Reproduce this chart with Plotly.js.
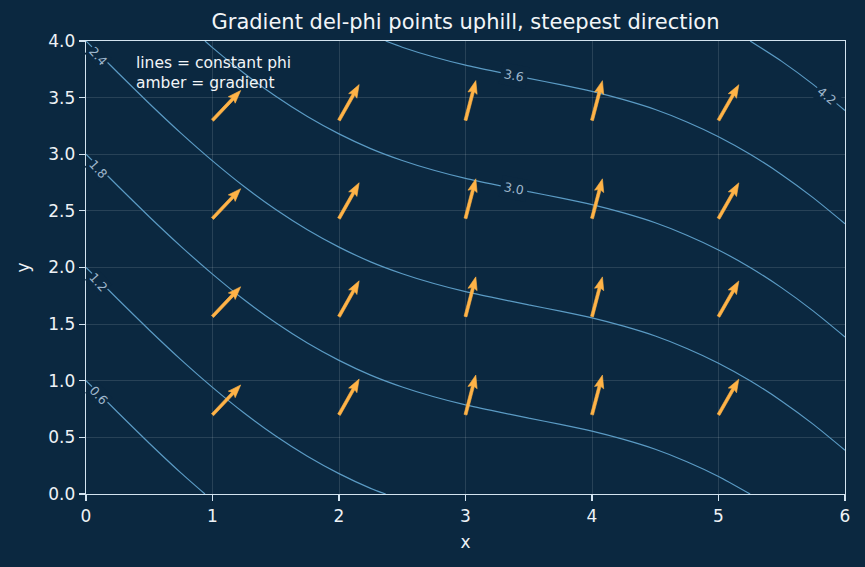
<!DOCTYPE html>
<html><head><meta charset="utf-8">
<script src="https://cdn.plot.ly/plotly-3.0.1.min.js"></script>
<style>html,body{margin:0;padding:0;background:#0b2840;}</style>
</head><body><div id="chart" style="width:865px;height:567px;"></div>
<script>
// scalar field phi sampled along x at y = 0 and y = 4 (phi varies linearly in y)
const phiX = [0,0.25,0.5,0.75,1,1.25,1.5,1.75,2,2.25,2.5,2.75,3,3.25,3.5,3.75,4,4.25,4.5,4.75,5,5.25,5.5,5.75,6];
const phiY = [0, 4];
const phiAtY0 = [0,0.167,0.331,0.488,0.635,0.771,0.893,1.000,1.092,1.170,1.233,1.285,1.328,1.364,1.398,1.431,1.467,1.511,1.563,1.629,1.707,1.800,1.908,2.031,2.168];
const phiAtY4 = [2.400,2.567,2.731,2.888,3.035,3.171,3.293,3.400,3.492,3.570,3.633,3.685,3.728,3.764,3.798,3.831,3.867,3.911,3.963,4.029,4.107,4.200,4.308,4.431,4.568];
const levelStart = 0.6, levelEnd = 4.2, levelStep = 0.6;
const levelLabels = ['0.6','1.2','1.8','2.4','3.0','3.6','4.2'];

// gradient samples (tails of the arrows)
const arrowX = [1, 2, 3, 4, 5];
const arrowY = [0.7, 1.567, 2.433, 3.3];
const gradX = [0.568, 0.339, 0.156, 0.158, 0.343];
const gradY = [0.6, 0.6, 0.6, 0.6, 0.6];

const W = 865, H = 567;
const M = {l: 86, r: 20, t: 41, b: 73};
const xRange = [0, 6], yRange = [0, 4];
const sx = (W - M.l - M.r) / (xRange[1] - xRange[0]);
const sy = (H - M.t - M.b) / (yRange[1] - yRange[0]);

const BG = '#0b2840';
const AMBER = '#ffb347';
const LINE = '#5b9bc4';
const AXC = '#d3e3ef';

// arrow polygons (quiver style, normalised length in screen pixels)
const Lpx = 41, wpx = 3.0, headLen = 13, headAxis = 11.5, headW = 9.5;
const ax = [], ay = [];
for (let j = 0; j < arrowY.length; j++) {
  for (let i = 0; i < arrowX.length; i++) {
    const u = gradX[i], v = gradY[i];
    const n = Math.hypot(u, v);
    const dx = u / n, dy = v / n;          // screen direction (up positive)
    const nx = -dy, ny = dx;
    const pts = [
      [0, -wpx/2], [Lpx - headAxis, -wpx/2], [Lpx - headLen, -headW/2], [Lpx, 0],
      [Lpx - headLen, headW/2], [Lpx - headAxis, wpx/2], [0, wpx/2], [0, -wpx/2]
    ];
    pts.forEach(p => {
      const px = p[0]*dx + p[1]*nx, py = p[0]*dy + p[1]*ny;
      ax.push(arrowX[i] + px / sx);
      ay.push(arrowY[j] + py / sy);
    });
    ax.push(null); ay.push(null);
  }
}

const traces = [
  {
    type: 'contour', x: phiX, y: phiY, z: [phiAtY0, phiAtY4],
    contours: {coloring: 'none', start: levelStart, end: levelEnd, size: levelStep, showlabels: false},
    line: {color: LINE, width: 1.2, smoothing: 0.6},
    showscale: false, hoverinfo: 'skip'
  },
  {
    type: 'scatter', mode: 'lines', x: ax, y: ay, fill: 'toself',
    fillcolor: AMBER, line: {color: AMBER, width: 0.6}, hoverinfo: 'skip', showlegend: false
  }
];

// contour label placement (text positions)
const labelPos = [
  {x: 0.097, y: 0.870, a: 48, p: 0.5}, {x: 0.097, y: 1.870, a: 48, p: 0.5}, {x: 0.097, y: 2.870, a: 48, p: 0.5},
  {x: 0.097, y: 3.870, a: 48, p: 0.5}, {x: 3.383, y: 2.697, a: 11, p: 3}, {x: 3.383, y: 3.697, a: 11, p: 3},
  {x: 5.855, y: 3.52, a: 39, p: 2}
];
const annotations = labelPos.map((p, k) => ({
  x: p.x, y: p.y, xref: 'x', yref: 'y', text: levelLabels[k], showarrow: false,
  textangle: p.a, bgcolor: BG, borderpad: p.p,
  font: {family: 'DejaVu Sans', size: 12.5, color: '#9fb7cc'}
}));
annotations.push({
  xref: 'paper', yref: 'paper', x: (134 - M.l) / (W - M.l - M.r), y: (494 - 52) / (H - M.t - M.b),
  xanchor: 'left', yanchor: 'top', align: 'left', showarrow: false,
  text: 'lines = constant phi<br>amber = gradient',
  font: {family: 'DejaVu Sans', size: 15.5, color: '#f2f5f8'}
});

const axisCommon = {
  showline: true, mirror: true, linecolor: AXC, linewidth: 1.3,
  ticks: 'outside', ticklen: 6, tickwidth: 1.2, tickcolor: AXC,
  gridcolor: 'rgba(255,255,255,0.15)', gridwidth: 0.8, zeroline: false,
  tickfont: {family: 'DejaVu Sans', size: 17, color: '#eef2f6'}
};

const layout = {
  width: W, height: H, margin: M,
  paper_bgcolor: BG, plot_bgcolor: BG,
  showlegend: false,
  title: {text: 'Gradient del-phi points uphill, steepest direction', xref: 'paper', x: 0.5, xanchor: 'center',
          yref: 'container', y: 1 - 22 / H, yanchor: 'middle',
          font: {family: 'DejaVu Sans', size: 21, color: '#f2f5f8'}},
  xaxis: Object.assign({}, axisCommon, {range: xRange, dtick: 1, tick0: 0,
          title: {text: 'x', standoff: 11, font: {family: 'DejaVu Sans', size: 17, color: '#eef2f6'}}}),
  yaxis: Object.assign({}, axisCommon, {range: yRange, dtick: 0.5, tick0: 0, tickformat: '.1f',
          title: {text: 'y', standoff: 14, font: {family: 'DejaVu Sans', size: 17, color: '#eef2f6'}}}),
  annotations: annotations
};

Plotly.newPlot('chart', traces, layout, {displayModeBar: false, staticPlot: true});
</script></body></html>
